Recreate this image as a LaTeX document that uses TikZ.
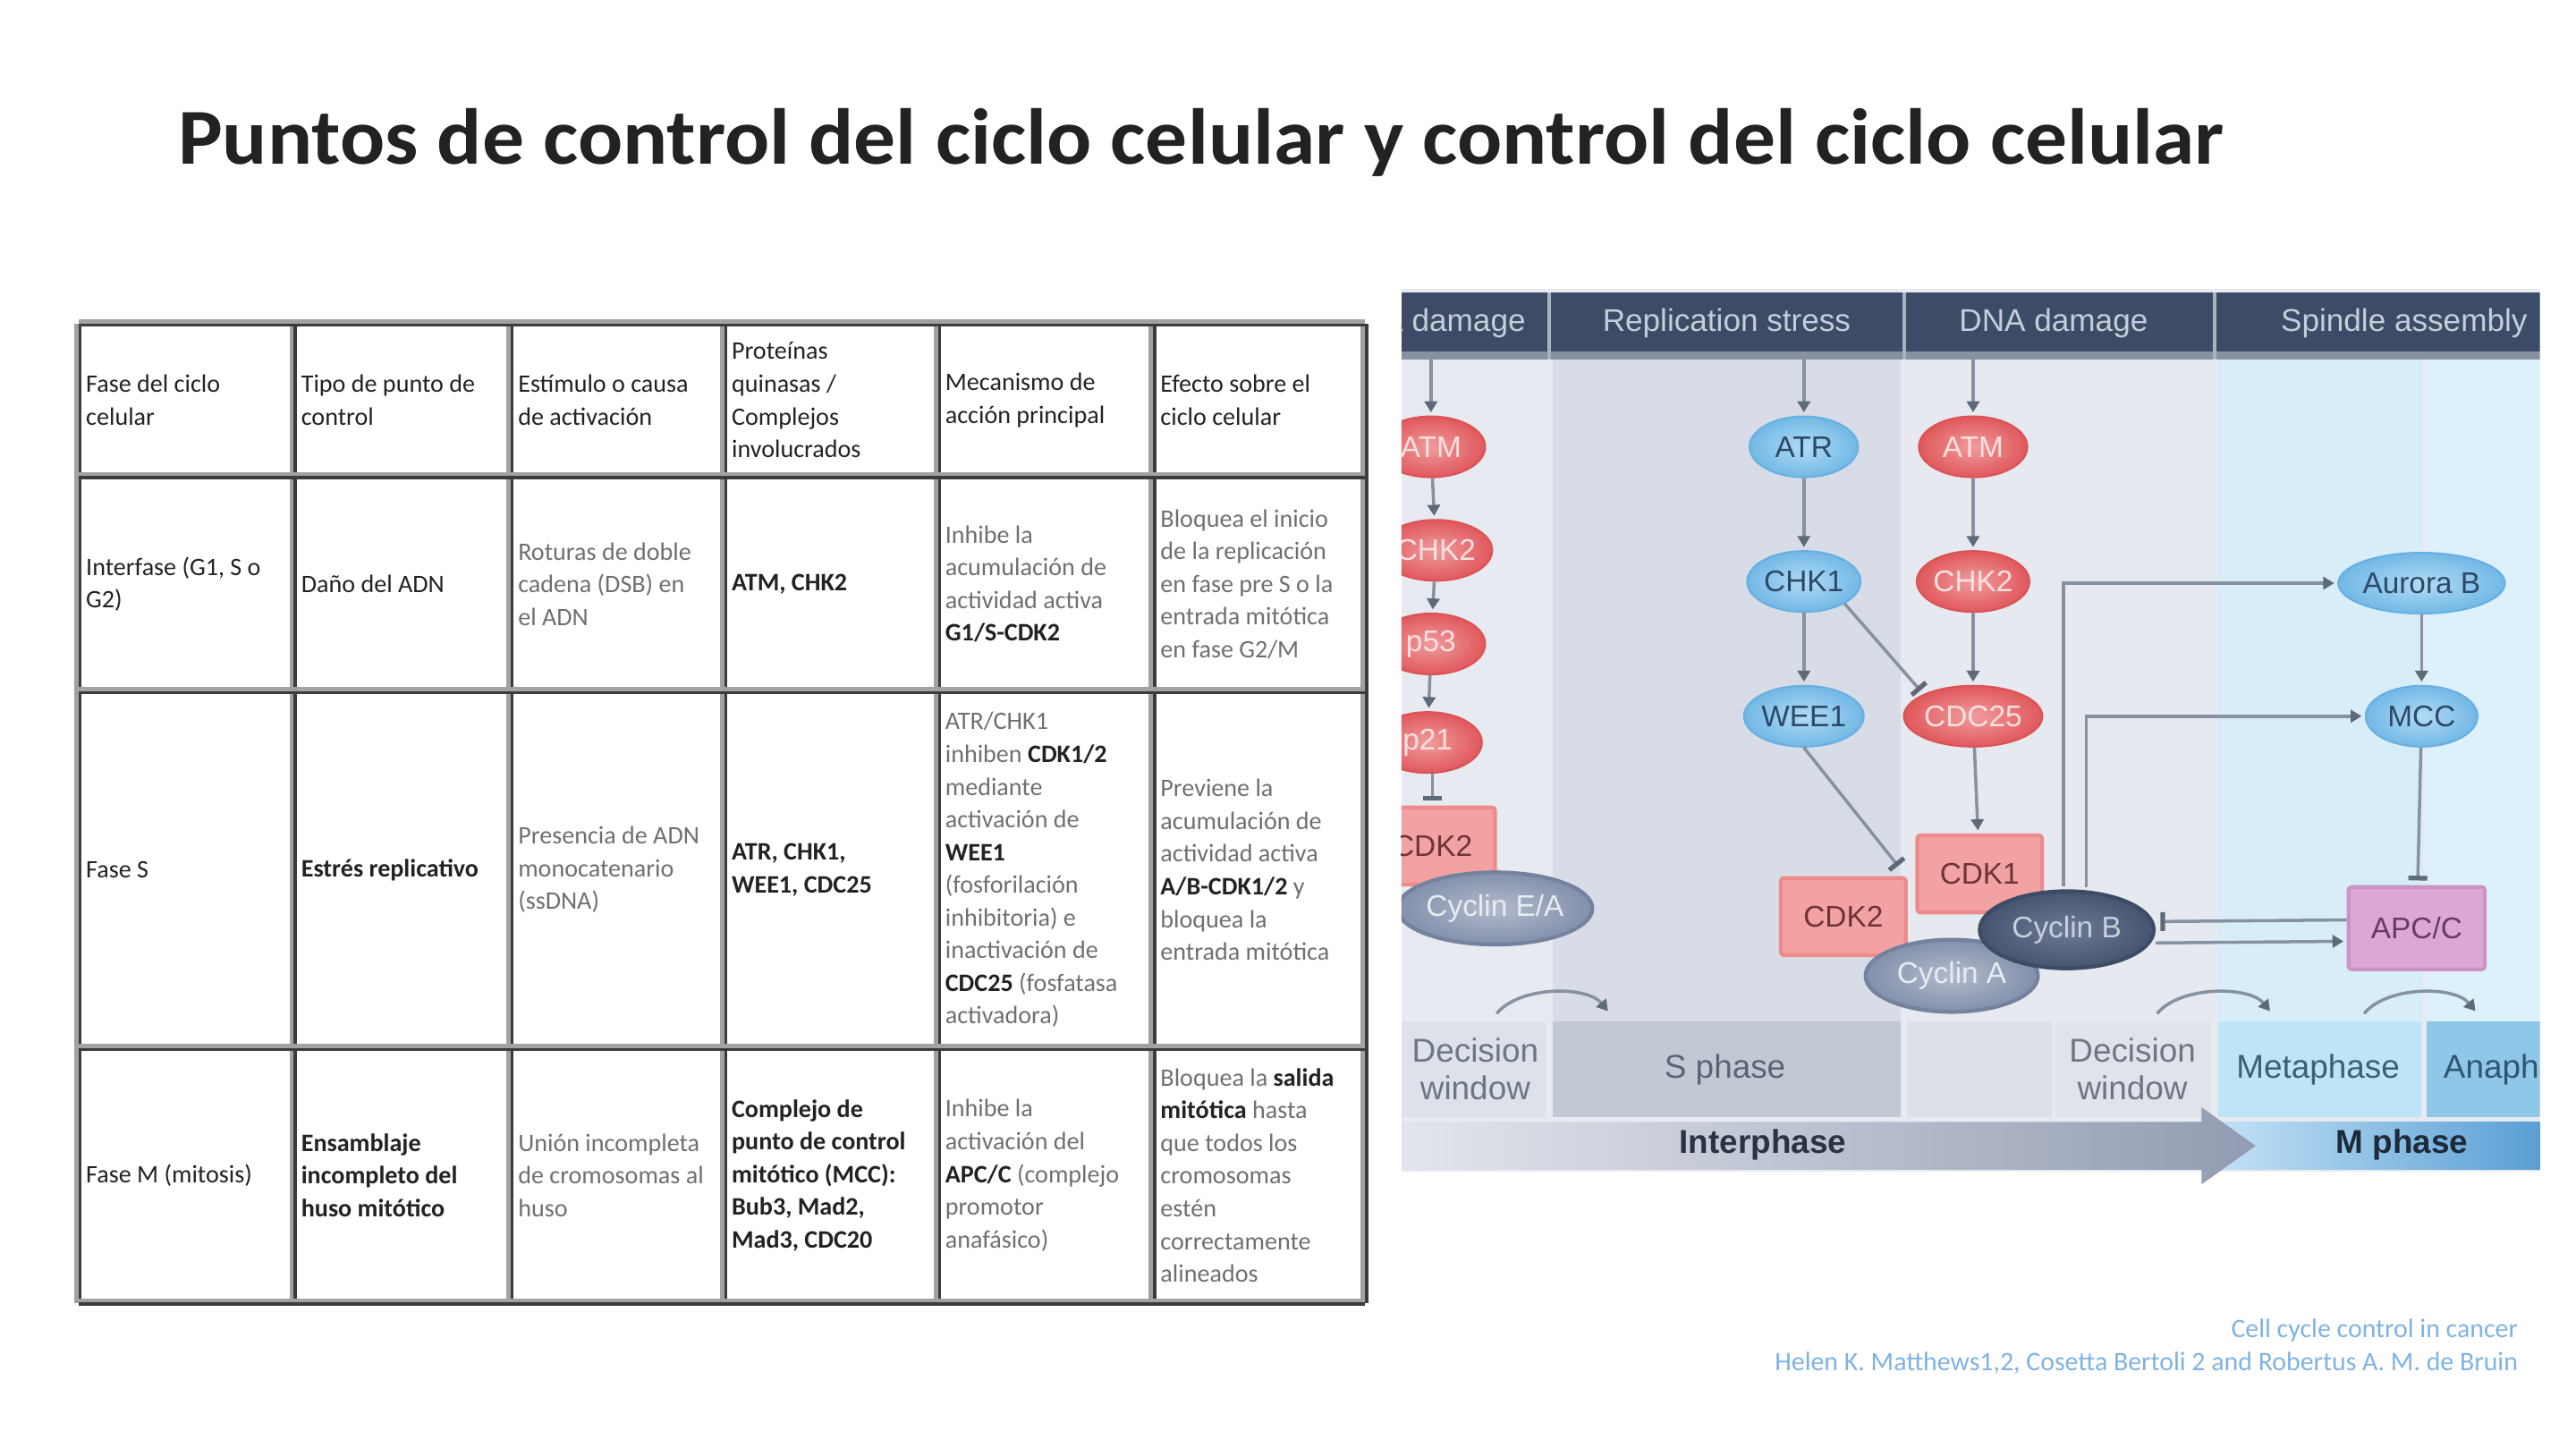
\documentclass[tikz,border=0pt]{standalone}
\usepackage{graphicx}
\usepackage{fontspec}
\setmainfont{Carlito}
\newfontfamily\figfont{Liberation Sans}
\usetikzlibrary{arrows.meta,shapes.geometric,calc}

\definecolor{inkdark}{HTML}{222222}
\definecolor{inkgrey}{HTML}{6F6F6F}
\definecolor{griddark}{HTML}{3C3C3C}
\definecolor{gridsoft}{HTML}{A2A2A2}
\definecolor{barnavy}{HTML}{3C4B66}
\definecolor{bartext}{HTML}{C6CDD9}
\definecolor{colA}{HTML}{E7EAF0}
\definecolor{colB}{HTML}{D8DCE6}
\definecolor{colC}{HTML}{E6E9EF}
\definecolor{colD}{HTML}{D7EEF9}
\definecolor{colE}{HTML}{DDF1FB}
\definecolor{bandA}{HTML}{DDE1E9}
\definecolor{bandS}{HTML}{C2C8D4}
\definecolor{bandB}{HTML}{DCE0E8}
\definecolor{bandC}{HTML}{E0E3EA}
\definecolor{bandM}{HTML}{BDE5F7}
\definecolor{bandN}{HTML}{8FC7E8}
\definecolor{decgrey}{HTML}{6E7585}
\definecolor{sgrey}{HTML}{5C6474}
\definecolor{metatext}{HTML}{3E5E74}
\definecolor{anatext}{HTML}{2F5673}
\definecolor{mlight}{HTML}{CDE8F8}
\definecolor{mdeep}{HTML}{5A9FD5}
\definecolor{ilight}{HTML}{E2E5EC}
\definecolor{ideep}{HTML}{929CB2}
\definecolor{intertext}{HTML}{2C3240}
\definecolor{mtext}{HTML}{1C2A3A}
\definecolor{redin}{HTML}{F09C9D}
\definecolor{redout}{HTML}{E0585C}
\definecolor{redrim}{HTML}{DA5357}
\definecolor{redtext}{HTML}{FBE0E0}
\definecolor{bluein}{HTML}{B2DBF4}
\definecolor{blueout}{HTML}{72B8E6}
\definecolor{bluerim}{HTML}{66B0E2}
\definecolor{bluetext}{HTML}{2C4A68}
\definecolor{cdkfill}{HTML}{F3A2A3}
\definecolor{cdkrim}{HTML}{EC8A8C}
\definecolor{cdktext}{HTML}{6E3434}
\definecolor{cycin}{HTML}{B2BACC}
\definecolor{cycout}{HTML}{8390AB}
\definecolor{cycrim}{HTML}{75829E}
\definecolor{cyctext}{HTML}{E8EBF1}
\definecolor{cybin}{HTML}{6C7A97}
\definecolor{cybout}{HTML}{46546F}
\definecolor{cybrim}{HTML}{3E4B66}
\definecolor{cybtext}{HTML}{C9CFDB}
\definecolor{apcfill}{HTML}{DBA8D3}
\definecolor{apcrim}{HTML}{CC92C4}
\definecolor{apctext}{HTML}{6A3A66}
\definecolor{linkgrey}{HTML}{8692A1}
\definecolor{tipgrey}{HTML}{5E6A78}
\definecolor{citeblue}{HTML}{7EB3E3}

\newlength\unitpx
\setlength\unitpx{0.018367cm}

\begin{document}
\begin{tikzpicture}[x=0.018367cm,y=-0.018367cm,
  every node/.style={inner sep=0pt},
  cell/.style={anchor=west,align=left,font=\fontsize{8}{10.4}\selectfont,text=inkdark},
  faint/.style={cell,text=inkgrey},
  prot/.style={ellipse,font=\figfont\fontsize{9.5}{11}\selectfont,minimum width=66\unitpx,minimum height=37\unitpx,line width=0.6pt},
  redprot/.style={prot,draw=redrim,inner color=redin,outer color=redout,text=redtext},
  blueprot/.style={prot,draw=bluerim,inner color=bluein,outer color=blueout,text=bluetext},
  cdkbox/.style={rectangle,rounded corners=1pt,minimum width=76\unitpx,minimum height=47\unitpx,draw=cdkrim,line width=1.2pt,fill=cdkfill,text=cdktext,font=\figfont\fontsize{9.5}{11}\selectfont},
  cyclin/.style={ellipse,minimum width=105\unitpx,minimum height=44\unitpx,line width=1.2pt,draw=cycrim,inner color=cycin,outer color=cycout,text=cyctext,font=\figfont\fontsize{9.5}{11}\selectfont},
  phase/.style={align=center,font=\figfont\fontsize{10.5}{12}\selectfont},
  link/.style={draw=linkgrey,line width=1pt},
  act/.style={link,-{Triangle[length=3.5pt,width=4pt,color=tipgrey]},shorten >=1pt},
  block/.style={link,-{Bar[width=6pt,line width=1.5pt,color=tipgrey]},shorten >=1.5pt},
]
\useasboundingbox (0,0) rectangle (1568,881.4);

% title
\node (title) [anchor=base west,text=inkdark] at (108,100)
  {\resizebox{650.9pt}{17.7pt}{\bfseries Puntos de control del ciclo celular y control del ciclo celular}};

% table grid
\foreach \gx in {48,179,311,441,571,702,831}{
  \draw[gridsoft,line width=1.8pt] (\gx-1,197) -- (\gx-1,793);
  \draw[griddark,line width=1pt] (\gx+0.8,197) -- (\gx+0.8,793);
}
\foreach \gy in {197,290,421,638,793}{
  \draw[gridsoft,line width=1.8pt] (48,\gy-1) -- (831,\gy-1);
  \draw[griddark,line width=1pt] (48,\gy+0.8) -- (831,\gy+0.8);
}

% header row
\node (h1) [cell] at (52,243.5) {Fase del ciclo\\celular};
\node (h2) [cell] at (183,243.5) {Tipo de punto de\\control};
\node (h3) [cell] at (315,243.5) {Estímulo o causa\\de activación};
\node (h4) [cell] at (445,243.5) {Proteínas\\quinasas /\\Complejos\\involucrados};
\node (h5) [cell] at (575,243.5) {Mecanismo de\\acción principal};
\node (h6) [cell] at (706,243.5) {Efecto sobre el\\ciclo celular};

% row: interfase
\node (a1) [cell] at (52,355.5) {Interfase (G1, S o\\G2)};
\node (a2) [cell] at (183,355.5) {Daño del ADN};
\node (a3) [faint] at (315,355.5) {Roturas de doble\\cadena (DSB) en\\el ADN};
\node (a4) [cell] at (445,355.5) {\textbf{ATM, CHK2}};
\node (a5) [faint] at (575,355.5) {Inhibe la\\acumulación de\\actividad activa\\\textcolor{inkdark}{\textbf{G1/S-CDK2}}};
\node (a6) [faint] at (706,355.5) {Bloquea el inicio\\de la replicación\\en fase pre S o la\\entrada mitótica\\en fase G2/M};

% row: fase S
\node (b1) [cell] at (52,529.5) {Fase S};
\node (b2) [cell] at (183,529.5) {\textbf{Estrés replicativo}};
\node (b3) [faint] at (315,529.5) {Presencia de ADN\\monocatenario\\(ssDNA)};
\node (b4) [cell] at (445,529.5) {\textbf{ATR, CHK1,}\\\textbf{WEE1, CDC25}};
\node (b5) [faint] at (575,529.5) {ATR/CHK1\\inhiben \textcolor{inkdark}{\textbf{CDK1/2}}\\mediante\\activación de\\\textcolor{inkdark}{\textbf{WEE1}}\\(fosforilación\\inhibitoria) e\\inactivación de\\\textcolor{inkdark}{\textbf{CDC25}} (fosfatasa\\activadora)};
\node (b6) [faint] at (706,529.5) {Previene la\\acumulación de\\actividad activa\\\textcolor{inkdark}{\textbf{A/B-CDK1/2}} y\\bloquea la\\entrada mitótica};

% row: fase M
\node (c1) [cell] at (52,715.5) {Fase M (mitosis)};
\node (c2) [cell] at (183,715.5) {\textbf{Ensamblaje}\\\textbf{incompleto del}\\\textbf{huso mitótico}};
\node (c3) [faint] at (315,715.5) {Unión incompleta\\de cromosomas al\\huso};
\node (c4) [cell] at (445,715.5) {\textbf{Complejo de}\\\textbf{punto de control}\\\textbf{mitótico (MCC):}\\\textbf{Bub3, Mad2,}\\\textbf{Mad3, CDC20}};
\node (c5) [faint] at (575,715.5) {Inhibe la\\activación del\\\textcolor{inkdark}{\textbf{APC/C}} (complejo\\promotor\\anafásico)};
\node (c6) [faint] at (706,715.5) {Bloquea la \textcolor{inkdark}{\textbf{salida}}\\\textcolor{inkdark}{\textbf{mitótica}} hasta\\que todos los\\cromosomas\\estén\\correctamente\\alineados};

% checkpoint panel
\begin{scope}
\clip (853,176) rectangle (1546,722);
\fill[colA] (853,176) rectangle (1546,713);
\fill[colA] (853,219) rectangle (941,622);
\fill[colB] (945,219) rectangle (1157,622);
\fill[colC] (1161,219) rectangle (1348,622);
\fill[colD] (1350,219) rectangle (1475,622);
\fill[colE] (1477,219) rectangle (1546,622);
\fill[barnavy] (853,178) rectangle (1546,214);
\fill[linkgrey] (853,214) rectangle (1546,219);
\foreach \sx in {943,1159,1348}
  \draw[linkgrey!70!white,line width=1.2pt] (\sx,178) -- (\sx,219);
\node (hdrL) [anchor=east,text=bartext,font=\figfont\fontsize{10}{12}\selectfont] at (929,197) {DNA damage};
\node (hdrR) [text=bartext,font=\figfont\fontsize{10}{12}\selectfont] at (1051,197) {Replication stress};
\node (hdrD) [text=bartext,font=\figfont\fontsize{10}{12}\selectfont] at (1250,197) {DNA damage};
\node (hdrS) [anchor=west,text=bartext,font=\figfont\fontsize{10}{12}\selectfont] at (1388,197) {Spindle assembly};
\coordinate (topL) at (871,219);
\coordinate (topR) at (1098,219);
\coordinate (topD) at (1201,219);

% phase bands
\fill[bandA] (853,622) rectangle (941,680);
\fill[bandS] (945,622) rectangle (1157,680);
\fill[bandB] (1161,622) rectangle (1249,680);
\fill[bandC] (1251,622) rectangle (1346,680);
\fill[bandM] (1350,622) rectangle (1474,680);
\fill[bandN] (1477,622) rectangle (1546,680);
\node (decA) [phase,text=decgrey] at (898,651) {Decision\\window};
\node (sph) [phase,text=sgrey] at (1050,651) {S phase};
\node (decB) [phase,text=decgrey] at (1298,651) {Decision\\window};
\node (meta) [phase,text=metatext] at (1411,651) {Metaphase};
\node (ana) [phase,anchor=west,text=anatext] at (1487,651) {Anaphase};

% phase arrow
\shade[left color=mlight,right color=mdeep] (1330,683) rectangle (1546,712);
\shade[left color=ilight,right color=ideep]
  (853,683) -- (1340,683) -- (1340,674) -- (1373,697.5) -- (1340,721) -- (1340,712) -- (853,712) -- cycle;
\node (inter) [font=\figfont\bfseries\fontsize{10.5}{12}\selectfont,text=intertext] at (1073,697) {Interphase};
\node (mph) [font=\figfont\bfseries\fontsize{10.5}{12}\selectfont,text=mtext] at (1462,697) {M phase};

% transitions
\draw[act] (911,617) .. controls (925,600) and (966,600) .. (980,617);
\draw[act] (1313,617) .. controls (1327,600) and (1369,600) .. (1383,617);
\draw[act] (1439,617) .. controls (1453,600) and (1494,600) .. (1508,617);

% DNA damage (cut at the edge)
\node (atmL) [redprot] at (871,272) {ATM};
\node (chkL) [redprot] at (874,335) {CHK2};
\node (pL53) [redprot] at (871,392) {p53};
\node (pL21) [redprot] at (869,452) {p21};
\node (cdkL) [cdkbox] at (872,515) {CDK2};
\node (cycEA) [cyclin] at (910,553) {Cyclin E/A};

% replication stress
\node (atrR) [blueprot] at (1098,272) {ATR};
\node (chkA) [blueprot,minimum width=69\unitpx] at (1098,354) {CHK1};
\node (weeA) [blueprot,minimum width=69\unitpx] at (1098,436) {WEE1};

% DNA damage
\node (atmB) [redprot] at (1201,272) {ATM};
\node (chkB) [redprot,minimum width=68\unitpx] at (1201,354) {CHK2};
\node (cdcB) [redprot,minimum width=78\unitpx] at (1201,436) {CDC25};

% CDK complexes
\node (cdkTwo) [cdkbox] at (1122,558) {CDK2};
\node (cdkOne) [cdkbox] at (1205,532) {CDK1};
\node (cycA) [cyclin] at (1188,594) {Cyclin A};
\node (cycB) [cyclin,minimum width=106\unitpx,minimum height=47\unitpx,draw=cybrim,inner color=cybin,outer color=cybout,text=cybtext] at (1258,566) {Cyclin B};

% spindle assembly
\node (aurB) [blueprot,minimum width=95\unitpx] at (1474,355) {Aurora B};
\node (mccS) [blueprot,minimum width=68\unitpx] at (1474,436) {MCC};
\node (apcS) [rectangle,rounded corners=1pt,minimum width=83\unitpx,minimum height=50\unitpx,draw=apcrim,line width=1.2pt,fill=apcfill,text=apctext,font=\figfont\fontsize{9.5}{11}\selectfont] at (1471,565) {APC/C};

% connectors
\draw[act] (topL) -- (atmL);
\draw[act] (atmL) -- (chkL);
\draw[act] (chkL) -- (pL53);
\draw[act] (pL53) -- (pL21);
\draw[block] (pL21.south -| cdkL) -- (cdkL);
\draw[act] (topR) -- (atrR);
\draw[act] (atrR) -- (chkA);
\draw[act] (chkA) -- (weeA);
\draw[block] (chkA.south east) -- (cdcB.north west);
\draw[block] (weeA.south) -- ($(cdkTwo.north east)+(-4,-4)$);
\draw[act] (topD) -- (atmB);
\draw[act] (atmB) -- (chkB);
\draw[act] (chkB) -- (cdcB);
\draw[act] (cdcB) -- (cdkOne);
\draw[act] ($(cycB.north)+(-2,-2)$) |- (aurB);
\draw[act] ($(cycB.north)+(12,-1)$) |- (mccS);
\draw[act] (aurB) -- (mccS);
\draw[block] (mccS) -- (apcS);
\draw[block] ($(apcS.west)+(0,-5)$) -- ($(cycB.east)+(0,-5)$);
\draw[act] ($(cycB.east)+(0,8)$) -- ($(apcS.west)+(0,8)$);
\end{scope}

% source
\node (src) [anchor=east,text=citeblue,font=\fontsize{8.5}{10}\selectfont] at (1533,810) {Cell cycle control in cancer};
\node (auth) [anchor=east,text=citeblue,font=\fontsize{8.5}{10}\selectfont] at (1533,830) {Helen K. Matthews1,2, Cosetta Bertoli 2 and Robertus A. M. de Bruin};
\end{tikzpicture}
\end{document}
